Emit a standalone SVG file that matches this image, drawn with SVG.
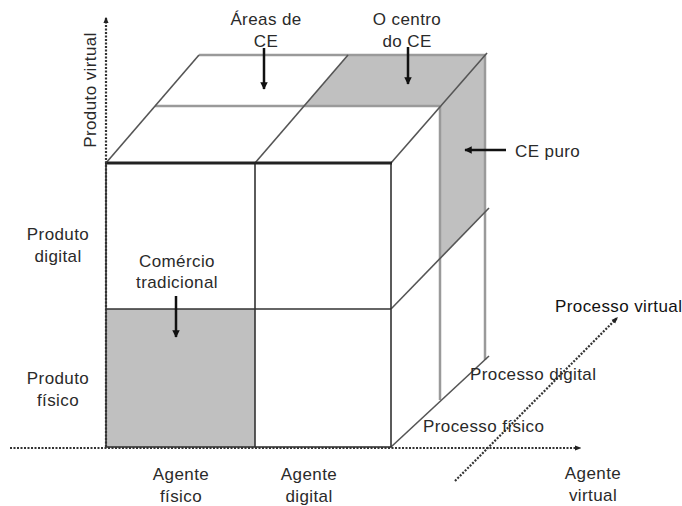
<svg xmlns="http://www.w3.org/2000/svg" width="682" height="506" viewBox="0 0 682 506">
<style>
text{font-family:"Liberation Sans",Arial,sans-serif;font-size:17px;letter-spacing:0.4px;fill:#2a2a2a}
.c{text-anchor:middle}
.edge{stroke:#333;stroke-width:1.6;fill:none}
.back{stroke:#9a9a9a;stroke-width:2.5;fill:none}
.diag{stroke:#555;stroke-width:1.6;fill:none}
.axis{stroke:#333;stroke-width:2.2;stroke-dasharray:2 1.5;fill:none}
.arr{stroke:#111;stroke-width:2.5;fill:none;marker-end:url(#ah)}
.shade{fill:#c0c0c0;stroke:none}
</style>
<defs>
<marker id="ah" viewBox="0 0 10 10" refX="9" refY="5" markerWidth="3" markerHeight="3" orient="auto"><path d="M0,0L10,5L0,10z" fill="#111"/></marker>
<marker id="axh" viewBox="0 0 10 10" refX="8" refY="5" markerWidth="3" markerHeight="3" orient="auto"><path d="M0,1L10,5L0,9z" fill="#222"/></marker>
</defs>
<g id="cube">
<polygon class="shade" points="348,55 485,55 440,106 304,106"/>
<polygon class="shade" points="440,106 485,55 485,212 440,258"/>
<rect class="shade" x="106" y="309" width="149" height="138"/>
<line class="back" x1="199" y1="55" x2="485" y2="55"/>
<line class="back" x1="155" y1="106" x2="440" y2="106"/>
<line class="back" x1="440" y1="106" x2="440" y2="400"/>
<line class="back" x1="485" y1="55" x2="485" y2="360"/>
<line class="diag" x1="106" y1="163" x2="199" y2="55"/>
<line class="diag" x1="255" y1="163" x2="348" y2="55"/>
<line class="diag" x1="391" y1="163" x2="487" y2="53"/>
<line class="diag" x1="391" y1="309" x2="489" y2="208"/>
<line class="diag" x1="391" y1="447" x2="489" y2="356"/>
<rect class="edge" x="106" y="163" width="285" height="284"/>
<line class="edge" x1="255" y1="163" x2="255" y2="447"/>
<line class="edge" x1="106" y1="309" x2="391" y2="309"/>
<line stroke="#222" stroke-width="3.2" x1="105" y1="163" x2="392" y2="163"/>
</g>
<g id="connectors">
<line class="axis" x1="106" y1="447" x2="106" y2="18" marker-end="url(#axh)"/>
<line class="axis" x1="10" y1="448" x2="580" y2="448" marker-end="url(#axh)"/>
<line class="axis" x1="455" y1="481" x2="617" y2="318" marker-end="url(#axh)"/>
<line class="arr" x1="264" y1="48" x2="264" y2="89"/>
<line class="arr" x1="408" y1="47" x2="408" y2="84"/>
<line class="arr" x1="506" y1="150" x2="465" y2="150"/>
<line class="arr" x1="176" y1="296" x2="176" y2="337"/>
</g>
<g id="labels">
<text class="c" transform="translate(96,90) rotate(-90)">Produto virtual</text>
<text class="c" x="266" y="25">Áreas de</text>
<text class="c" x="266" y="47">CE</text>
<text class="c" x="407" y="25">O centro</text>
<text class="c" x="407" y="47">do CE</text>
<text x="515" y="157">CE puro</text>
<text class="c" x="58" y="240">Produto</text>
<text class="c" x="58" y="262">digital</text>
<text class="c" x="177" y="267">Comércio</text>
<text class="c" x="177" y="288">tradicional</text>
<text class="c" x="58" y="384">Produto</text>
<text class="c" x="58" y="406">físico</text>
<text class="c" x="181" y="480">Agente</text>
<text class="c" x="181" y="502">físico</text>
<text class="c" x="309" y="480">Agente</text>
<text class="c" x="309" y="502">digital</text>
<text class="c" x="593" y="479">Agente</text>
<text class="c" x="593" y="501">virtual</text>
<text x="555" y="312" style="fill:#111">Processo virtual</text>
<text x="470" y="380">Processo digital</text>
<text x="423" y="432">Processo físico</text>
</g>
</svg>
